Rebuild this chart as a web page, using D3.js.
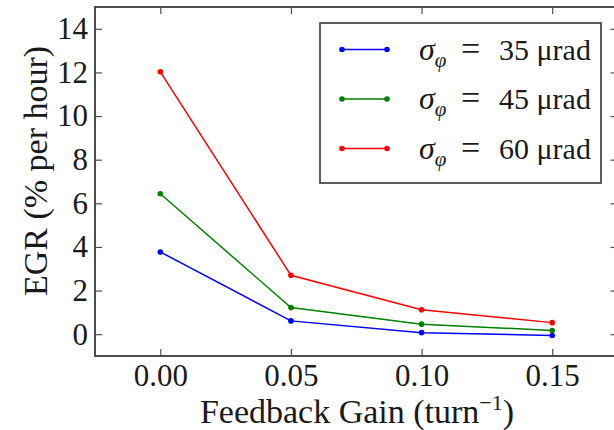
<!DOCTYPE html>
<html>
<head>
<meta charset="utf-8">
<script src="https://d3js.org/d3.v7.min.js"></script>
<style>
  body { margin: 0; background: #fff; }
  svg { display: block; }
  text { fill: #1a1a1a; }
</style>
</head>
<body>
<svg id="chart" width="614" height="430" font-family="'Liberation Serif', 'Times New Roman', serif"></svg>
<script>
// data
var gains = [0.00, 0.05, 0.10, 0.15];
var egr35 = [3.77, 0.61, 0.07, -0.06];
var egr45 = [6.44, 1.22, 0.46, 0.17];
var egr60 = [12.03, 2.70, 1.12, 0.53];
var seriesNames = ["35", "45", "60"];
var seriesColors = ["#0000ff", "#008000", "#ff0000"];
var xTicks = [0.00, 0.05, 0.10, 0.15];
var yTicks = [0, 2, 4, 6, 8, 10, 12, 14];

var allSeries = [egr35, egr45, egr60];

var svg = d3.select("#chart");

// plot box (right edge sits just past the picture)
var plotLeft = 95, plotRight = 617.5, plotTop = 7, plotBottom = 356;

var x = d3.scaleLinear().domain([-0.025, 0.175]).range([plotLeft, plotRight]);
var y = d3.scaleLinear().domain([-1, 15]).range([plotBottom, plotTop]);

var spineColor = "#4d4d4d";
var tickFont = 31;

// axes, ticks pointing inward on all four sides
svg.append("g")
  .attr("transform", `translate(0,${plotBottom})`)
  .call(d3.axisBottom(x).tickValues(xTicks).tickFormat(d3.format(".2f"))
    .tickSizeInner(-7).tickSizeOuter(0).tickPadding(8))
  .call(g => g.select(".domain").remove())
  .attr("font-family", null).attr("font-size", tickFont);

svg.append("g")
  .attr("transform", `translate(${plotLeft},0)`)
  .call(d3.axisLeft(y).tickValues(yTicks)
    .tickSizeInner(-7).tickSizeOuter(0).tickPadding(7))
  .call(g => g.select(".domain").remove())
  .attr("font-family", null).attr("font-size", tickFont);

svg.append("g")
  .attr("transform", `translate(0,${plotTop})`)
  .call(d3.axisTop(x).tickValues(xTicks).tickFormat("").tickSizeInner(-7).tickSizeOuter(0))
  .call(g => g.select(".domain").remove());

svg.append("g")
  .attr("transform", `translate(${plotRight},0)`)
  .call(d3.axisRight(y).tickValues(yTicks).tickFormat("").tickSizeInner(-7).tickSizeOuter(0))
  .call(g => g.select(".domain").remove());

svg.selectAll(".tick line").attr("stroke", spineColor).attr("stroke-width", 1.2);
svg.selectAll(".tick text").attr("fill", "#1a1a1a");

// frame
svg.append("rect")
  .attr("x", plotLeft).attr("y", plotTop)
  .attr("width", plotRight - plotLeft).attr("height", plotBottom - plotTop)
  .attr("fill", "none").attr("stroke", spineColor).attr("stroke-width", 2);

// lines
var line = d3.line()
  .x((d, i) => x(gains[i]))
  .y(d => y(d));

allSeries.forEach(function(vals, s) {
  svg.append("path")
    .datum(vals)
    .attr("fill", "none")
    .attr("stroke", seriesColors[s])
    .attr("stroke-width", 1.5)
    .attr("d", line);
  svg.append("g")
    .selectAll("circle")
    .data(vals)
    .enter().append("circle")
      .attr("cx", (d, i) => x(gains[i]))
      .attr("cy", d => y(d))
      .attr("r", 2.8)
      .attr("fill", seriesColors[s]);
});

// axis labels
svg.append("text")
  .attr("x", 357).attr("y", 423)
  .attr("text-anchor", "middle")
  .attr("font-size", 34)
  .call(t => t.append("tspan").text("Feedback Gain (turn"))
  .call(t => t.append("tspan").attr("dy", -13).attr("font-size", 22).text("−1"))
  .call(t => t.append("tspan").attr("dy", 13).text(")"));

svg.append("text")
  .attr("transform", "translate(47,171) rotate(-90)")
  .attr("text-anchor", "middle")
  .attr("font-size", 34)
  .text("EGR (% per hour)");

// legend
var legend = svg.append("g");
legend.append("rect")
  .attr("x", 320).attr("y", 23)
  .attr("width", 281).attr("height", 160)
  .attr("fill", "#fff").attr("stroke", spineColor).attr("stroke-width", 1.8);

var rowY = [49.5, 99, 148.5];
seriesNames.forEach(function(name, s) {
  var ly = rowY[s];
  legend.append("line")
    .attr("x1", 342).attr("x2", 387).attr("y1", ly).attr("y2", ly)
    .attr("stroke", seriesColors[s]).attr("stroke-width", 1.5);
  [342, 387].forEach(function(cx) {
    legend.append("circle").attr("cx", cx).attr("cy", ly).attr("r", 2.8).attr("fill", seriesColors[s]);
  });
  legend.append("text")
    .attr("x", 419).attr("y", ly + 10)
    .attr("font-size", 30)
    .call(t => t.append("tspan").attr("font-style", "italic").attr("font-size", 32).text("σ"))
    .call(t => t.append("tspan").attr("font-style", "italic").attr("font-size", 21)
      .attr("dy", 7).attr("dx", 0).text("φ"))
    .call(t => t.append("tspan").attr("x", 461).attr("dy", -7).attr("font-size", 34).text("="))
    .call(t => t.append("tspan").attr("x", 499).attr("font-size", 30).text(name + " μrad"));
});
</script>
</body>
</html>
